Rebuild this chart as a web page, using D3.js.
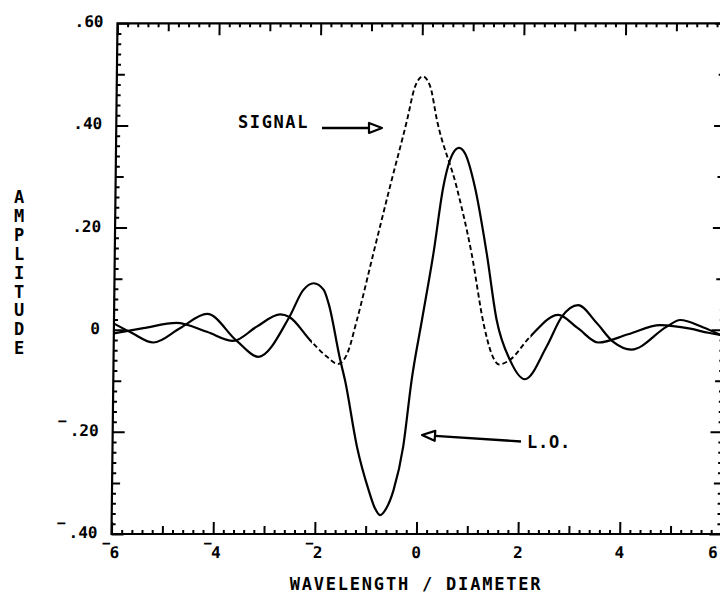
<!DOCTYPE html>
<html><head><meta charset="utf-8">
<script src="https://cdn.jsdelivr.net/npm/d3@7"></script>
<style>html,body{margin:0;padding:0;background:#fff;} svg{display:block;}</style>
</head><body>
<svg id="chart" width="720" height="595"></svg>
<script>
// ---- data ----
const loX = [-6, -5.65, -5.22, -4.70, -4.17, -3.58, -3.15, -2.55, -2.28, -2.08, -1.88, -1.78, -1.54, -1.44, -1.19, -0.95, -0.82, -0.72, -0.60, -0.46, -0.28, -0.13, 0.06, 0.27, 0.45, 0.63, 0.75, 0.87, 1.07, 1.32, 1.53, 1.80, 2.10, 2.52, 2.81, 3.13, 3.50, 3.83, 4.19, 4.88, 5.14, 5.59, 6];
const loY = [0.012, -0.006, -0.025, 0.003, 0.031, -0.022, -0.053, 0.025, 0.078, 0.091, 0.078, 0.051, -0.059, -0.099, -0.229, -0.314, -0.350, -0.363, -0.350, -0.314, -0.229, -0.099, 0.019, 0.149, 0.28, 0.345, 0.356, 0.345, 0.28, 0.149, 0.019, -0.059, -0.097, -0.033, 0.025, 0.048, 0.013, -0.024, -0.039, 0.006, 0.019, 0.005, -0.013];
const sigX = [-6, -5.42, -4.77, -4.17, -3.65, -3.19, -2.73, -2.55, -2.14, -1.80, -1.58, -1.40, -1.22, -0.91, -0.60, -0.28, -0.13, 0.02, 0.17, 0.31, 0.71, 1.02, 1.28, 1.43, 1.59, 1.80, 2.19, 2.74, 3.13, 3.54, 4.12, 4.75, 5.34, 5.70, 6];
const sigY = [-0.007, 0.003, 0.0135, -0.004, -0.022, 0.006, 0.030, 0.025, -0.020, -0.053, -0.067, -0.046, 0.019, 0.15, 0.28, 0.41, 0.476, 0.496, 0.476, 0.41, 0.28, 0.15, 0.009, -0.045, -0.068, -0.059, -0.014, 0.029, 0.003, -0.025, -0.009, 0.009, 0.002, -0.006, -0.011];
const sigDashedRange = [-2.1, 2.2];

const xTickValues = [-6, -4, -2, 0, 2, 4, 6];
const xTickLabels = ["−6", "−4", "−2", "0", "2", "4", "6"];
const yTickValues = [-0.4, -0.2, 0, 0.2, 0.4, 0.6];
const yTickLabels = ["−.40", "−.20", "0", ".20", ".40", ".60"];
const xTitle = "WAVELENGTH / DIAMETER";
const yTitle = "AMPLITUDE";
const signalLabel = "SIGNAL";
const loLabel = "L.O.";

// ---- layout ----
const W = 720, H = 595;
const X0 = 111.5, X1 = 721.3, YT = 23.3, YB = 534;
const FONT = "'DejaVu Sans Mono', monospace";
const FW = "bold";
const x = d3.scaleLinear().domain([-6, 6]).range([X0, X1]);
const y = d3.scaleLinear().domain([-0.4, 0.6]).range([YB, YT]);

const svg = d3.select("#chart");
svg.append("rect").attr("width", W).attr("height", H).attr("fill", "#fff");

// slight shear of the scanned original
const k = 0.0117;
const g = svg.append("g").attr("transform", `matrix(1,0,${-k},1,${k * YB},0)`);

const defs = svg.append("defs");
defs.append("clipPath").attr("id", "dashClip").append("rect")
  .attr("x", x(sigDashedRange[0])).attr("y", -50)
  .attr("width", x(sigDashedRange[1]) - x(sigDashedRange[0])).attr("height", H + 100);
const sc = defs.append("clipPath").attr("id", "solidClip");
sc.append("rect").attr("x", -100).attr("y", -50)
  .attr("width", x(sigDashedRange[0]) + 100).attr("height", H + 100);
sc.append("rect").attr("x", x(sigDashedRange[1])).attr("y", -50)
  .attr("width", W + 100).attr("height", H + 100);

// ---- ticks via d3 axes ----
const xMinor = d3.range(-30, 31).filter(i => i % 5 !== 0).map(i => i / 5);
const xMid = [-5, -3, -1, 1, 3, 5];
const yMinor = d3.range(-20, 31).filter(i => i % 5 !== 0).map(i => i / 50);
const yMid = [-0.3, -0.1, 0.1, 0.3, 0.5];

function addAxis(axisFn, scale, vals, size, tx, ty) {
  const a = axisFn(scale).tickValues(vals).tickSize(-size).tickFormat("");
  const gg = g.append("g").attr("transform", `translate(${tx},${ty})`).call(a);
  gg.select(".domain").remove();
  gg.selectAll(".tick line").attr("stroke", "#000").attr("stroke-width", 2);
}
[[xMinor, 4], [xMid, 8], [xTickValues, 12]].forEach(([v, s]) => {
  addAxis(d3.axisBottom, x, v, s, 0, YB);
  addAxis(d3.axisTop, x, v, s, 0, YT);
});
[[yMinor, 4], [yMid, 8], [yTickValues, 12]].forEach(([v, s]) => {
  addAxis(d3.axisLeft, y, v, s, X0, 0);
  addAxis(d3.axisRight, y, v, s, X1, 0);
});

// frame
g.append("rect").attr("x", X0).attr("y", YT).attr("width", X1 - X0).attr("height", YB - YT)
  .attr("fill", "none").attr("stroke", "#000").attr("stroke-width", 2.2);

// tick labels
function styled(sel, size) {
  return sel.attr("font-family", FONT).attr("font-size", size).attr("font-weight", FW).attr("fill", "#000");
}
yTickValues.forEach((v, i) => {
  const lab = yTickLabels[i];
  const neg = lab.startsWith("−");
  const body = neg ? lab.slice(1) : lab;
  styled(g.append("text"), 16).attr("x", 97.5).attr("y", y(v) + 4)
    .attr("text-anchor", "end").text(body);
  if (neg) {
    styled(g.append("text"), 15).attr("x", 97.5 - body.length * 9.63 - 3).attr("y", y(v) - 6)
      .attr("text-anchor", "end").text("−");
  }
});
xTickValues.forEach((v, i) => {
  const lab = xTickLabels[i];
  const xp = Math.min(x(v), 713);
  const neg = lab.startsWith("−");
  const body = neg ? lab.slice(1) : lab;
  styled(g.append("text"), 16).attr("x", xp + (neg ? 3 : 0)).attr("y", 558)
    .attr("text-anchor", "middle").text(body);
  if (neg) {
    styled(g.append("text"), 14).attr("x", xp - 1).attr("y", 548)
      .attr("text-anchor", "end").text("−");
  }
});

// curves
const line = d3.line().x(d => x(d[0])).y(d => y(d[1])).curve(d3.curveMonotoneX);
const loData = loX.map((v, i) => [v, loY[i]]);
const sigData = sigX.map((v, i) => [v, sigY[i]]);
g.append("path").attr("d", line(loData)).attr("fill", "none")
  .attr("stroke", "#000").attr("stroke-width", 2.2).attr("stroke-linejoin", "round");
g.append("path").attr("d", line(sigData)).attr("fill", "none").attr("clip-path", "url(#solidClip)")
  .attr("stroke", "#000").attr("stroke-width", 2.2).attr("stroke-linejoin", "round");
g.append("path").attr("d", line(sigData)).attr("fill", "none").attr("clip-path", "url(#dashClip)")
  .attr("stroke", "#000").attr("stroke-width", 1.9).attr("stroke-dasharray", "5,3");

// ---- titles & annotations (screen coordinates) ----
styled(svg.append("text"), 17).attr("x", 416).attr("y", 590).attr("text-anchor", "middle")
  .attr("letter-spacing", 1.8).text(xTitle);
yTitle.split("").forEach((ch, i) => {
  styled(svg.append("text"), 17).attr("x", 19).attr("y", 203 + i * 18.9)
    .attr("text-anchor", "middle").text(ch);
});

function arrow(x1, y1, x2, y2) {
  const dx = x2 - x1, dy = y2 - y1, L = Math.hypot(dx, dy);
  const ux = dx / L, uy = dy / L, nx = -uy, ny = ux;
  const hl = 13, hw = 5;
  const bx = x2 - ux * hl, by = y2 - uy * hl;
  svg.append("line").attr("x1", x1).attr("y1", y1).attr("x2", bx).attr("y2", by)
    .attr("stroke", "#000").attr("stroke-width", 2.4);
  svg.append("path")
    .attr("d", `M${bx + nx * hw},${by + ny * hw}L${x2},${y2}L${bx - nx * hw},${by - ny * hw}Z`)
    .attr("fill", "#fff").attr("stroke", "#000").attr("stroke-width", 2.2).attr("stroke-linejoin", "round");
}
styled(svg.append("text"), 17).attr("x", 238).attr("y", 128)
  .attr("letter-spacing", 1.6).text(signalLabel);
arrow(322, 128, 382, 128);
styled(svg.append("text"), 17).attr("x", 527).attr("y", 448)
  .attr("letter-spacing", 0.8).text(loLabel);
arrow(521, 441.5, 422, 435);
</script>
</body></html>
